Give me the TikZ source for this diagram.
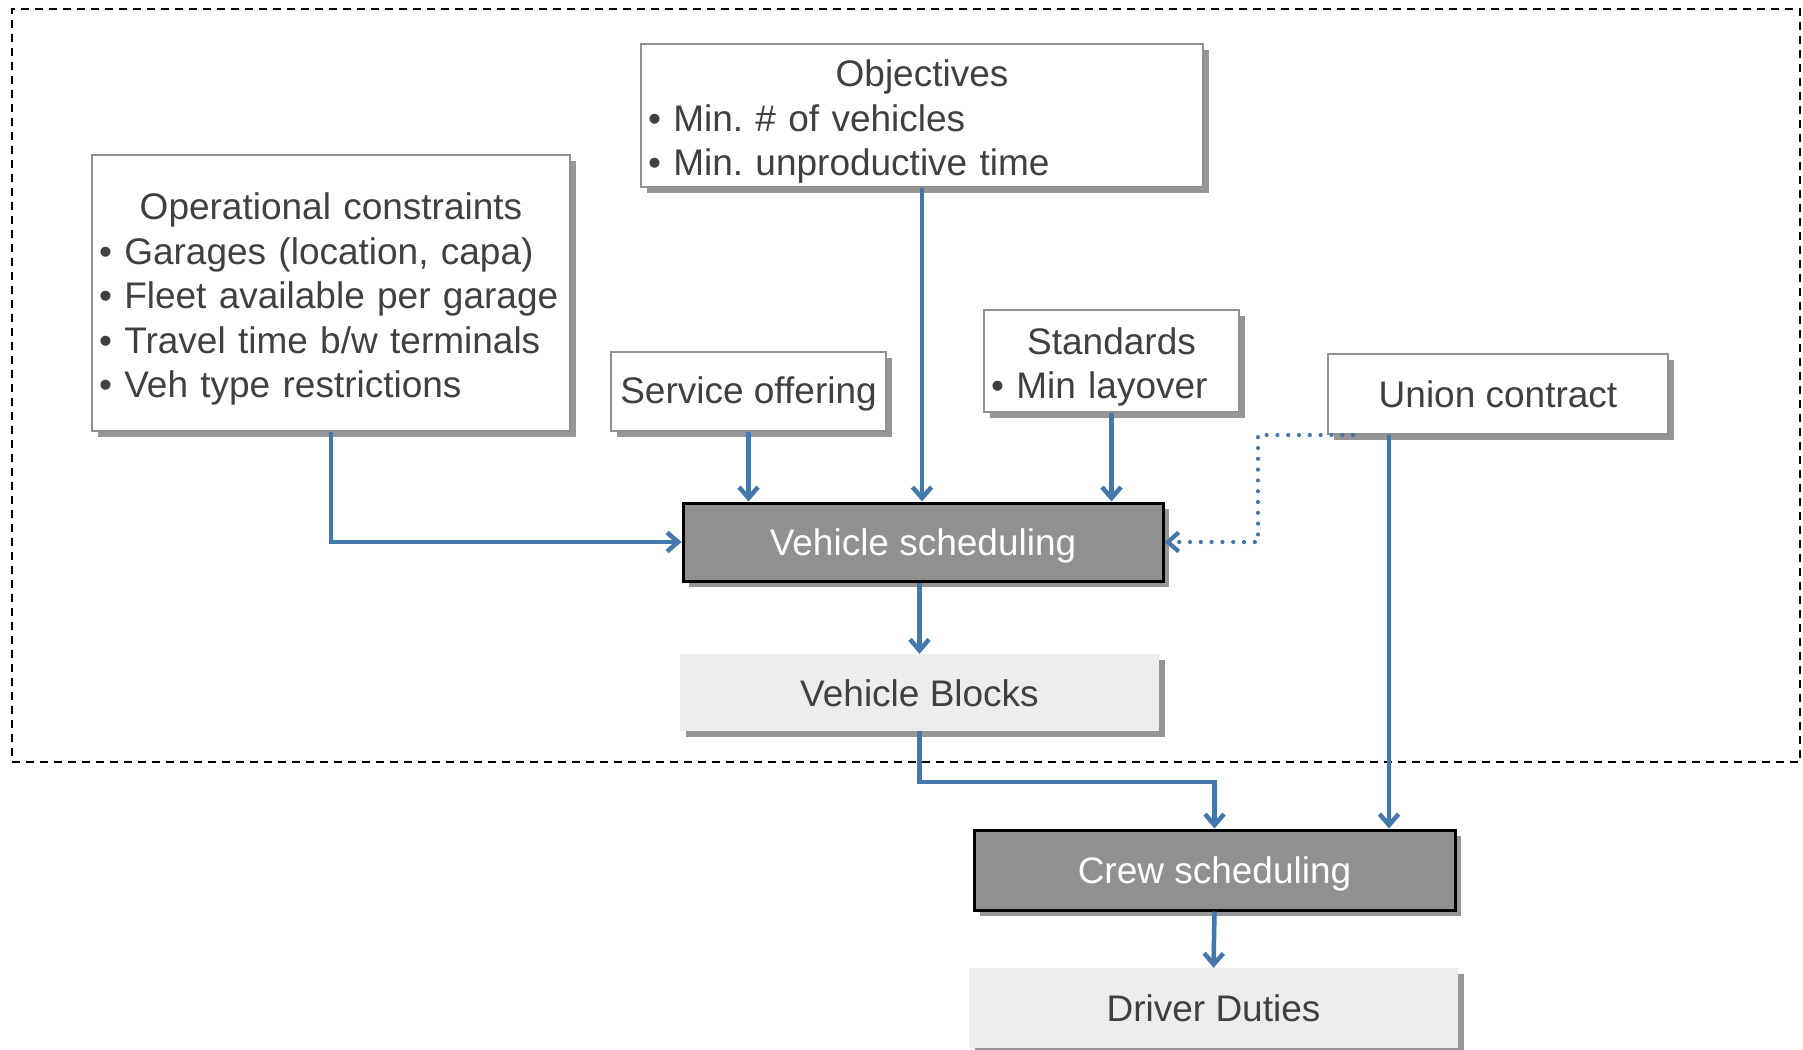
\documentclass[tikz,border=0pt]{standalone}
\usepackage{fontspec}
\setmainfont{Liberation Sans}
\usetikzlibrary{arrows.meta,shadows,calc}
\definecolor{flow}{RGB}{66,120,171}
\definecolor{txt}{RGB}{64,64,64}
\definecolor{rim}{RGB}{145,145,145}
\definecolor{shade}{RGB}{150,150,150}
\definecolor{darkfill}{RGB}{144,144,144}
\definecolor{lightfill}{RGB}{237,237,237}

% heading line of a list box, with extra head room above it
\newcommand{\boxhead}[1]{{\centering\rule{0pt}{39pt}#1\par}\raggedright}

\tikzset{
  every node/.style={font=\fontsize{37}{44.5}\selectfont\frenchspacing, text=txt},
  boxshadow/.style={general shadow={fill=shade, shadow xshift=6pt, shadow yshift=-6pt}},
  % single-line labels: cap height centred in the box
  oneline/.style={text height=27pt, text depth=0pt},
  inbox/.style={draw=rim, line width=2pt, fill=white, inner xsep=7pt, inner ysep=0pt, boxshadow},
  stepbox/.style={draw=black, line width=3pt, fill=darkfill, text=white, inner sep=0pt, oneline, boxshadow},
  resultbox/.style={fill=lightfill, inner sep=0pt, oneline, boxshadow},
  frame/.style={draw=black, line width=1.8pt, dash pattern=on 8pt off 6pt, inner sep=0pt},
  link/.style={draw=flow, line width=4.5pt, -{Straight Barb[length=11pt,width=19pt]}},
  dotlink/.style={link, dash pattern=on 0pt off 10.8pt, line cap=round, line width=4.2pt},
}

\begin{document}
\begin{tikzpicture}[x=1pt,y=-1pt]
\useasboundingbox (0,0) rectangle (1803,1049);

% scope of the vehicle scheduling stage
\node[frame, minimum width=1788pt, minimum height=753pt] (stage) at (906,385.5) {};

% inputs
\node[inbox, text width=464pt, minimum height=276pt] (op) at (331,293)
  {\boxhead{Operational constraints}
   • Garages (location, capa)\\• Fleet available per garage\\• Travel time b/w terminals\\• Veh type restrictions};
\node[inbox, text width=548pt, minimum height=143pt] (obj) at (922,115.5)
  {\boxhead{Objectives}
   • Min. \# of vehicles\\• Min. unproductive time};
\node[inbox, text height=27pt, text depth=4pt, minimum width=275pt, minimum height=79pt] (svc) at (748.5,391.5) {Service offering};
\node[inbox, text width=241pt, minimum height=102pt] (std) at (1111.5,361)
  {\boxhead{Standards}• Min layover};
\node[inbox, oneline, minimum width=340pt, minimum height=80pt] (union) at (1498,394) {Union contract};

% process steps and results
\node[stepbox, minimum width=480pt, minimum height=78pt] (vs) at (923,542) {Vehicle scheduling};
\node[resultbox, minimum width=479pt, minimum height=77pt] (vb) at (919.5,692.5) {Vehicle Blocks};
\node[stepbox, minimum width=481pt, minimum height=80pt] (cs) at (1214.5,870) {Crew scheduling};
\node[resultbox, minimum width=489pt, minimum height=80pt] (dd) at (1213.5,1008) {Driver Duties};

% connectors
\draw[link] (op.south) |- (vs.west);
\draw[link] (svc.south) -- (svc.south |- vs.north);
\draw[link] (obj.south) -- (obj.south |- vs.north);
\draw[link] (std.south) -- (std.south |- vs.north);

\coordinate (udot) at ([xshift=26pt]union.south west);
\coordinate (ubend) at (1258,0);
\draw[dotlink] (udot) -- (udot -| ubend) |- (vs.east);

\coordinate (ux) at (1389,0);
\draw[link] (union.south -| ux) -- (cs.north -| ux);

\draw[link] (vs.south -| vb.north) -- (vb.north);
\coordinate (vbturn) at (0,782);
\draw[link] (vb.south) -- (vb.south |- vbturn) -| (cs.north);
\draw[link] (cs.south) -- (dd.north);
\end{tikzpicture}
\end{document}
